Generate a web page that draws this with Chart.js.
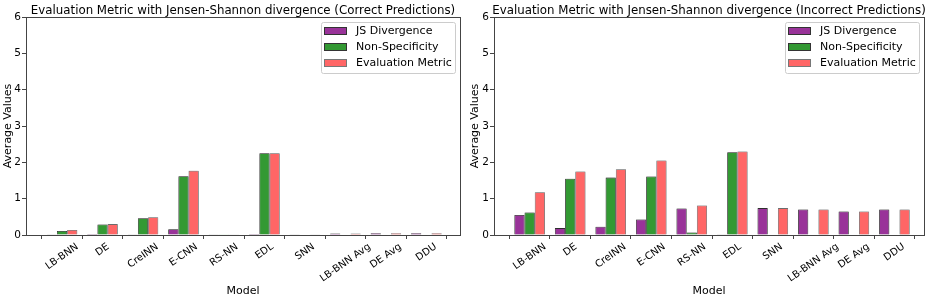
<!DOCTYPE html>
<html>
<head>
<meta charset="utf-8">
<script src="https://cdn.jsdelivr.net/npm/chart.js@4/dist/chart.umd.min.js"></script>
<style>
  html, body { margin: 0; padding: 0; background: #fff; }
  #wrap { width: 934px; height: 302px; display: flex; }
  .box { width: 467px; height: 302px; position: relative; }
</style>
</head>
<body>
<div id="wrap">
  <div class="box"><canvas id="left"></canvas></div>
  <div class="box"><canvas id="right"></canvas></div>
</div>
<script>
// modelli sull'asse x
const modelli = ["LB-BNN", "DE", "CreINN", "E-CNN", "RS-NN", "EDL", "SNN", "LB-BNN Avg", "DE Avg", "DDU"];
const tickY = [0, 1, 2, 3, 4, 5, 6];

// previsioni corrette
const jsCorrette = [0.02, 0.003, 0.02, 0.16, 0.01, 0.003, 0.02, 0.04, 0.05, 0.05];
const nsCorrette = [0.11, 0.29, 0.46, 1.62, 0.005, 2.25, 0, 0, 0, 0];
const emCorrette = [0.14, 0.30, 0.49, 1.77, 0.01, 2.25, 0.02, 0.04, 0.05, 0.05];

// previsioni errate
const jsErrate = [0.55, 0.19, 0.23, 0.43, 0.73, 0.02, 0.74, 0.70, 0.65, 0.70];
const nsErrate = [0.62, 1.55, 1.58, 1.61, 0.07, 2.28, 0, 0, 0, 0];
const emErrate = [1.18, 1.75, 1.81, 2.05, 0.81, 2.30, 0.74, 0.70, 0.65, 0.70];

const FONT = "'DejaVu Sans', sans-serif";
const ASSE = "#444";
const ROT = 35 * Math.PI / 180;

// ombra leggera sulle barre, cornice, titolo, etichette x centrate e legenda dentro l'area
const extra = {
    id: "extra",
    beforeDatasetsDraw(chart) {
        const c = chart.ctx;
        c.save();
        c.shadowColor = "rgba(0,0,0,0.3)";
        c.shadowBlur = 2;
    },
    afterDatasetsDraw(chart) {
        chart.ctx.restore();
    },
    afterDraw(chart) {
        const c = chart.ctx, a = chart.chartArea;
        c.save();
        c.strokeStyle = ASSE;
        c.lineWidth = 1;
        c.strokeRect(Math.round(a.left) + 0.5, Math.round(a.top) + 0.5,
            Math.round(a.right - a.left), Math.round(a.bottom - a.top));

        // titolo centrato sull'area del grafico
        c.font = "11.8px " + FONT;
        c.fillStyle = "#000";
        c.textAlign = "center";
        c.textBaseline = "alphabetic";
        c.fillText(chart.options.titolo, (a.left + a.right) / 2, a.top - 3);

        // etichette dell'asse x (centrate sotto il tick, come matplotlib)
        const sx = chart.scales.x;
        c.font = "10px " + FONT;
        c.textBaseline = "middle";
        chart.data.labels.forEach((lab, i) => {
            const x = sx.getPixelForValue(i);
            const w = c.measureText(lab).width, h = 11.6;
            const H = w * Math.sin(ROT) + h * Math.cos(ROT);
            c.save();
            c.translate(x, a.bottom + 6 + H / 2);
            c.rotate(-ROT);
            c.fillText(lab, 0, 0);
            c.restore();
        });

        // legenda
        const x0 = a.right - 139, y0 = a.top + 5, w = 134, h = 51;
        c.fillStyle = "rgba(255,255,255,0.8)";
        c.strokeStyle = "#ccc";
        c.beginPath();
        c.roundRect(x0 + 0.5, y0 + 0.5, w, h, 2);
        c.fill();
        c.stroke();
        c.font = "11px " + FONT;
        c.textAlign = "left";
        chart.data.datasets.forEach((ds, i) => {
            const yy = y0 + 9 + i * 16;
            c.fillStyle = ds.backgroundColor;
            c.fillRect(x0 + 3, yy - 4, 23, 8);
            c.strokeStyle = ds.borderColor;
            c.strokeRect(x0 + 3.5, yy - 3.5, 22, 7);
            c.fillStyle = "#000";
            c.fillText(ds.label, x0 + 35, yy + 0.5);
        });
        c.restore();
    }
};

function creaGrafico(id, titolo, js, ns, em, padRight, yWidth, xMin, xMax) {
    const punti = v => v.map((y, i) => ({ x: i, y: y }));
    new Chart(document.getElementById(id), {
        type: "bar",
        data: {
            labels: modelli,
            datasets: [
                { label: "JS Divergence", data: punti(js), backgroundColor: "#993399", borderColor: "#333333" },
                { label: "Non-Specificity", data: punti(ns), backgroundColor: "#339933", borderColor: "#333333" },
                { label: "Evaluation Metric", data: punti(em), backgroundColor: "#ff6666", borderColor: "#777777" }
            ]
        },
        options: {
            titolo: titolo,
            responsive: true,
            maintainAspectRatio: false,
            animation: false,
            layout: { padding: { right: padRight, top: 17, left: 0, bottom: 0 } },
            datasets: { bar: { borderWidth: 0.8, categoryPercentage: 0.755, barPercentage: 1 } },
            plugins: {
                legend: { display: false },
                tooltip: { enabled: false },
                title: { display: false }
            },
            scales: {
                x: {
                    type: "linear",
                    offset: false,
                    min: xMin, max: xMax,
                    afterBuildTicks(s) { s.ticks = modelli.map((m, i) => ({ value: i })); },
                    grid: { display: true, drawOnChartArea: false, tickLength: 4, color: ASSE },
                    border: { color: ASSE },
                    ticks: { color: "rgba(0,0,0,0)", autoSkip: false, font: { family: FONT, size: 10 }, minRotation: 35, maxRotation: 35, padding: 0, callback: v => modelli[v] },
                    title: { display: true, text: "Model", color: "#000", font: { family: FONT, size: 11 }, padding: { top: 0, bottom: 4 } },
                    afterFit(s) { s.height = 67; }
                },
                y: {
                    min: 0, max: 6,
                    afterBuildTicks(s) { s.ticks = tickY.map(v => ({ value: v })); },
                    grid: { display: true, drawOnChartArea: false, tickLength: 4, color: ASSE },
                    border: { color: ASSE },
                    ticks: { color: "#000", font: { family: FONT, size: 10.5 }, padding: 1 },
                    title: { display: true, text: "Average Values", color: "#000", font: { family: FONT, size: 11 }, padding: { top: 2, bottom: 1 } },
                    afterFit(s) { s.width = yWidth; }
                }
            }
        },
        plugins: [extra]
    });
}

creaGrafico("left", "Evaluation Metric with Jensen-Shannon divergence (Correct Predictions)", jsCorrette, nsCorrette, emCorrette, 7, 26, -0.89, 9.83);
creaGrafico("right", "Evaluation Metric with Jensen-Shannon divergence (Incorrect Predictions)", jsErrate, nsErrate, emErrate, 10, 27, -0.88, 9.73);
</script>
</body>
</html>
